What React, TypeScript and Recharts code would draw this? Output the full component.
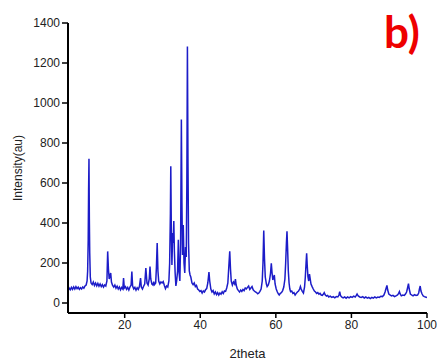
import React from 'react';
import { LineChart, Line, XAxis, YAxis } from 'recharts';

const twoTheta = [
  5.0, 5.3, 5.6, 5.9, 6.2, 6.5, 6.8, 7.1, 7.4, 7.7, 8.0, 8.3, 8.6, 8.9, 9.2, 9.5, 9.8,
  10.05, 10.2, 10.35, 10.45, 10.55, 10.65, 10.75, 10.9, 11.1, 11.4, 11.7, 12.0, 12.3, 12.6, 12.9, 13.2, 13.5, 13.8, 14.1, 14.4, 14.7, 15.0,
  15.3, 15.5, 15.7, 15.9, 16.1, 16.3, 16.5, 16.8, 17.1, 17.4, 17.7, 18.0, 18.3, 18.6, 18.9, 19.2, 19.5, 19.7, 19.9,
  20.2, 20.5, 20.8, 21.1, 21.4, 21.7, 21.9, 22.1, 22.4, 22.7, 23.0, 23.3, 23.6, 23.9, 24.2, 24.4, 24.7, 25.0, 25.3, 25.6, 25.9,
  26.2, 26.5, 26.7, 26.9, 27.2, 27.5, 27.7, 27.9, 28.2, 28.4, 28.6, 28.8, 29.0, 29.3, 29.6, 29.9, 30.2, 30.5, 30.8, 31.1, 31.4, 31.7, 31.9,
  32.1, 32.2, 32.35, 32.5, 32.7, 32.85, 33.0, 33.15, 33.35, 33.55, 33.75, 34.0, 34.2, 34.4, 34.6, 34.8, 35.0, 35.15, 35.3, 35.5, 35.7, 35.9,
  36.1, 36.3, 36.45, 36.6, 36.75, 36.9, 37.1, 37.3, 37.5, 37.8, 38.1, 38.4, 38.7, 39.0, 39.3, 39.6, 39.9, 40.2, 40.5, 40.8, 41.1, 41.4, 41.7,
  42.0, 42.3, 42.5, 42.8, 43.1, 43.4, 43.7, 44.0, 44.3, 44.6, 44.9, 45.2, 45.5, 45.8, 46.1, 46.4, 46.7, 47.0, 47.3, 47.55, 47.8, 48.0, 48.2,
  48.5, 48.8, 49.1, 49.3, 49.5, 49.8, 50.1, 50.4, 50.7, 51.0, 51.3, 51.6, 51.9, 52.2, 52.5, 52.8, 53.1, 53.4, 53.7, 54.0, 54.3, 54.6, 54.9,
  55.2, 55.5, 55.8, 56.1, 56.4, 56.6, 56.8, 57.0, 57.2, 57.5, 57.7, 58.0, 58.3, 58.6, 58.8, 59.0, 59.2, 59.4, 59.6, 59.8, 60.1, 60.4, 60.7,
  60.9, 61.2, 61.5, 61.8, 62.1, 62.4, 62.6, 62.8, 62.95, 63.1, 63.3, 63.5, 63.7, 63.9, 64.2, 64.5, 64.8, 65.1, 65.4, 65.7, 66.0, 66.3, 66.5,
  66.7, 67.0, 67.3, 67.6, 67.8, 68.0, 68.15, 68.3, 68.5, 68.7, 68.9, 69.1, 69.3, 69.6, 69.9, 70.2, 70.5, 70.8, 71.1, 71.4, 71.7, 72.0, 72.3,
  72.6, 72.8, 73.1, 73.4, 73.7, 74.0, 74.4, 74.8, 75.2, 75.6, 76.0, 76.4, 76.7, 76.9, 77.1, 77.4, 77.8, 78.2, 78.6, 79.0, 79.4, 79.8, 80.2,
  80.6, 81.0, 81.3, 81.5, 81.8, 82.2, 82.6, 83.0, 83.4, 83.8, 84.2, 84.6, 85.0, 85.4, 85.8, 86.2, 86.6, 87.0, 87.4, 87.8, 88.2, 88.6, 88.9,
  89.2, 89.4, 89.6, 89.9, 90.2, 90.6, 91.0, 91.4, 91.8, 92.2, 92.5, 92.7, 92.9, 93.2, 93.6, 94.0, 94.3, 94.6, 94.85, 95.1, 95.3, 95.6, 95.9,
  96.3, 96.7, 97.1, 97.5, 97.8, 98.0, 98.2, 98.4, 98.7, 99.0, 99.3, 99.6, 100.0,
];

const intensity = [
  62, 75, 66, 78, 68, 80, 70, 82, 72, 79, 68, 76, 70, 80, 74, 85, 90,
  110, 160, 316, 560, 721, 420, 250, 130, 100, 92, 105, 88, 100, 86, 98, 84, 95, 82, 92, 80, 90, 85,
  110, 258, 170, 120, 135, 150, 105, 88, 80, 90, 74, 84, 70, 80, 66, 78, 70, 125, 75,
  82, 68, 78, 65, 80, 90, 157, 85, 70, 78, 64, 76, 68, 82, 125, 80, 70, 84, 95, 175, 100,
  90, 120, 182, 120, 95, 90, 107, 92, 100, 180, 300, 160, 110, 95, 105, 100, 107, 88, 72, 85, 80, 110, 200,
  450, 684, 350, 190, 350, 300, 410, 260, 150, 85, 110, 160, 316, 150, 110, 300, 918, 500, 240, 390, 200, 150,
  280, 230, 600, 1283, 700, 300, 160, 140, 130, 100, 92, 100, 82, 88, 70, 65, 58, 62, 50, 60, 55, 66, 72,
  100, 155, 110, 70, 55, 62, 45, 55, 42, 52, 40, 50, 44, 56, 48, 60, 58, 75, 100, 180, 258, 170, 110,
  90, 105, 95, 120, 90, 70, 62, 55, 65, 58, 68, 62, 75, 70, 78, 85, 68, 75, 82, 66, 60, 55, 52,
  46, 50, 58, 70, 110, 200, 363, 220, 130, 95, 82, 90, 110, 150, 199, 150, 115, 125, 140, 95, 70, 55, 45,
  40, 48, 52, 62, 80, 120, 200, 300, 358, 280, 160, 100, 70, 57, 60, 48, 52, 40, 48, 55, 60, 70, 82,
  70, 58, 50, 80, 130, 200, 249, 190, 130, 110, 145, 120, 95, 82, 70, 60, 55, 48, 52, 44, 48, 40, 38,
  45, 52, 40, 35, 38, 30, 34, 28, 32, 26, 32, 30, 40, 57, 38, 30, 26, 30, 24, 30, 26, 32, 28,
  34, 30, 38, 45, 35, 30, 28, 32, 25, 30, 24, 28, 22, 28, 24, 30, 26, 30, 28, 34, 32, 40, 55,
  75, 88, 65, 45, 40, 35, 38, 32, 36, 40, 48, 57, 45, 36, 40, 38, 45, 55, 75, 97, 70, 45, 40,
  36, 42, 38, 40, 50, 70, 85, 60, 45, 35, 32, 30, 27,
];

const xTicks = [20, 40, 60, 80, 100];
const yTicks = [0, 200, 400, 600, 800, 1000, 1200, 1400];

const data = twoTheta.map((t, i) => ({ t, v: intensity[i] }));

const tickFont = { fill: '#222', fontSize: 12, fontFamily: 'Liberation Sans, Arial, sans-serif' };

export default function App() {
  return (
    <div style={{ position: 'absolute', left: 0, top: 0, width: 437, height: 361, background: '#fff' }}>
      <LineChart
        width={437}
        height={361}
        data={data}
        margin={{ top: 23, right: 10, bottom: 0, left: 0 }}
      >
        <XAxis
          dataKey="t"
          type="number"
          domain={[5, 100]}
          ticks={xTicks}
          allowDataOverflow
          height={48}
          axisLine={{ stroke: '#000', strokeWidth: 2 }}
          tickLine={{ stroke: '#000', strokeWidth: 1.5 }}
          tickSize={5}
          tick={tickFont}
          label={{
            value: '2theta',
            position: 'insideBottom',
            offset: 3,
            style: { fill: '#222', fontSize: 13, fontFamily: 'Liberation Sans, Arial, sans-serif' },
          }}
        />
        <YAxis
          type="number"
          domain={[-50, 1400]}
          ticks={yTicks}
          allowDataOverflow
          width={68}
          axisLine={{ stroke: '#000', strokeWidth: 2 }}
          tickLine={{ stroke: '#000', strokeWidth: 1.5 }}
          tickSize={6}
          tick={tickFont}
          label={{
            value: 'Intensity(au)',
            angle: -90,
            position: 'insideLeft',
            offset: 18,
            style: { textAnchor: 'middle', fill: '#222', fontSize: 12, fontFamily: 'Liberation Sans, Arial, sans-serif' },
          }}
        />
        <Line
          type="linear"
          dataKey="v"
          stroke="#1c1cc8"
          strokeWidth={1.5}
          dot={false}
          isAnimationActive={false}
        />
      </LineChart>
      <svg width={437} height={361} style={{ position: 'absolute', left: 0, top: 0, pointerEvents: 'none' }}>
        <text x={384} y={48} fill="#ee0000" fontSize={44} fontWeight="bold" fontFamily="Lato, 'Open Sans', sans-serif">
          b)
        </text>
      </svg>
    </div>
  );
}
